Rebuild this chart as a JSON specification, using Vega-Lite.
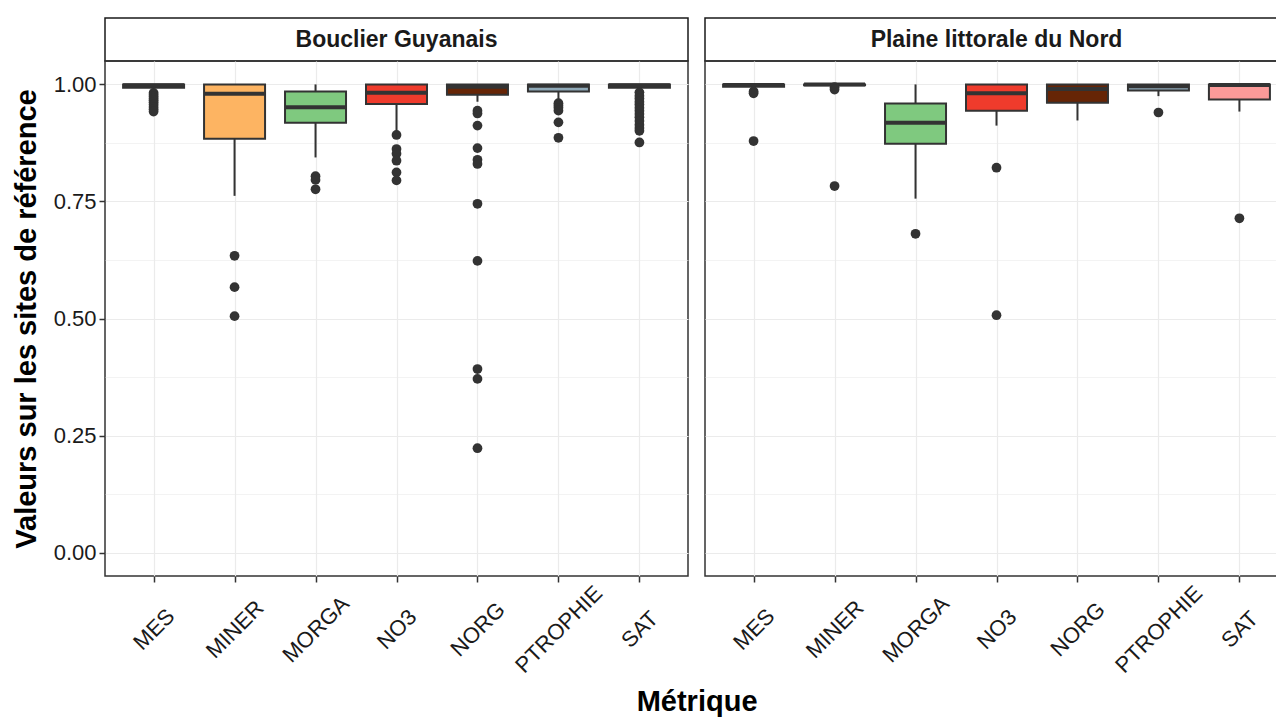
{
  "$schema": "https://vega.github.io/schema/vega-lite/v6.json",
  "background": "white",
  "padding": {"left": 11, "top": 17, "right": 0, "bottom": 0},
  "title": {"text": "Métrique", "orient": "bottom", "anchor": "middle", "dx": 47, "fontSize": 29, "fontWeight": "bold", "font": "Liberation Sans", "color": "black", "offset": 11},
  "datasets": {
    "boxes": [
      {"region": "Bouclier Guyanais", "metric": "MES", "lower": 0.986, "q1": 0.993, "median": 0.998, "q3": 1.0, "upper": 1.0},
      {"region": "Bouclier Guyanais", "metric": "MINER", "lower": 0.762, "q1": 0.884, "median": 0.980, "q3": 1.0, "upper": 1.0},
      {"region": "Bouclier Guyanais", "metric": "MORGA", "lower": 0.844, "q1": 0.918, "median": 0.951, "q3": 0.985, "upper": 1.0},
      {"region": "Bouclier Guyanais", "metric": "NO3", "lower": 0.900, "q1": 0.958, "median": 0.982, "q3": 1.0, "upper": 1.0},
      {"region": "Bouclier Guyanais", "metric": "NORG", "lower": 0.963, "q1": 0.978, "median": 0.995, "q3": 1.0, "upper": 1.0},
      {"region": "Bouclier Guyanais", "metric": "PTROPHIE", "lower": 0.968, "q1": 0.985, "median": 0.997, "q3": 1.0, "upper": 1.0},
      {"region": "Bouclier Guyanais", "metric": "SAT", "lower": 0.988, "q1": 0.993, "median": 0.998, "q3": 1.0, "upper": 1.0},
      {"region": "Plaine littorale du Nord", "metric": "MES", "lower": 0.993, "q1": 0.995, "median": 0.999, "q3": 1.0, "upper": 1.0},
      {"region": "Plaine littorale du Nord", "metric": "MINER", "lower": 0.997, "q1": 0.998, "median": 1.0, "q3": 1.0, "upper": 1.0},
      {"region": "Plaine littorale du Nord", "metric": "MORGA", "lower": 0.756, "q1": 0.873, "median": 0.918, "q3": 0.959, "upper": 1.0},
      {"region": "Plaine littorale du Nord", "metric": "NO3", "lower": 0.912, "q1": 0.944, "median": 0.981, "q3": 1.0, "upper": 1.0},
      {"region": "Plaine littorale du Nord", "metric": "NORG", "lower": 0.923, "q1": 0.961, "median": 0.990, "q3": 1.0, "upper": 1.0},
      {"region": "Plaine littorale du Nord", "metric": "PTROPHIE", "lower": 0.975, "q1": 0.987, "median": 0.996, "q3": 1.0, "upper": 1.0},
      {"region": "Plaine littorale du Nord", "metric": "SAT", "lower": 0.942, "q1": 0.968, "median": 0.999, "q3": 1.0, "upper": 1.0}
    ],
    "outliers": [
      {"region": "Bouclier Guyanais", "metric": "MES", "value": 0.982},
      {"region": "Bouclier Guyanais", "metric": "MES", "value": 0.978},
      {"region": "Bouclier Guyanais", "metric": "MES", "value": 0.974},
      {"region": "Bouclier Guyanais", "metric": "MES", "value": 0.970},
      {"region": "Bouclier Guyanais", "metric": "MES", "value": 0.966},
      {"region": "Bouclier Guyanais", "metric": "MES", "value": 0.962},
      {"region": "Bouclier Guyanais", "metric": "MES", "value": 0.957},
      {"region": "Bouclier Guyanais", "metric": "MES", "value": 0.952},
      {"region": "Bouclier Guyanais", "metric": "MES", "value": 0.947},
      {"region": "Bouclier Guyanais", "metric": "MES", "value": 0.942},
      {"region": "Bouclier Guyanais", "metric": "MINER", "value": 0.634},
      {"region": "Bouclier Guyanais", "metric": "MINER", "value": 0.567},
      {"region": "Bouclier Guyanais", "metric": "MINER", "value": 0.505},
      {"region": "Bouclier Guyanais", "metric": "MORGA", "value": 0.804},
      {"region": "Bouclier Guyanais", "metric": "MORGA", "value": 0.796},
      {"region": "Bouclier Guyanais", "metric": "MORGA", "value": 0.776},
      {"region": "Bouclier Guyanais", "metric": "NO3", "value": 0.892},
      {"region": "Bouclier Guyanais", "metric": "NO3", "value": 0.862},
      {"region": "Bouclier Guyanais", "metric": "NO3", "value": 0.852},
      {"region": "Bouclier Guyanais", "metric": "NO3", "value": 0.837},
      {"region": "Bouclier Guyanais", "metric": "NO3", "value": 0.812},
      {"region": "Bouclier Guyanais", "metric": "NO3", "value": 0.795},
      {"region": "Bouclier Guyanais", "metric": "NORG", "value": 0.944},
      {"region": "Bouclier Guyanais", "metric": "NORG", "value": 0.938},
      {"region": "Bouclier Guyanais", "metric": "NORG", "value": 0.912},
      {"region": "Bouclier Guyanais", "metric": "NORG", "value": 0.864},
      {"region": "Bouclier Guyanais", "metric": "NORG", "value": 0.839},
      {"region": "Bouclier Guyanais", "metric": "NORG", "value": 0.830},
      {"region": "Bouclier Guyanais", "metric": "NORG", "value": 0.745},
      {"region": "Bouclier Guyanais", "metric": "NORG", "value": 0.623},
      {"region": "Bouclier Guyanais", "metric": "NORG", "value": 0.392},
      {"region": "Bouclier Guyanais", "metric": "NORG", "value": 0.371},
      {"region": "Bouclier Guyanais", "metric": "NORG", "value": 0.223},
      {"region": "Bouclier Guyanais", "metric": "PTROPHIE", "value": 0.960},
      {"region": "Bouclier Guyanais", "metric": "PTROPHIE", "value": 0.955},
      {"region": "Bouclier Guyanais", "metric": "PTROPHIE", "value": 0.950},
      {"region": "Bouclier Guyanais", "metric": "PTROPHIE", "value": 0.944},
      {"region": "Bouclier Guyanais", "metric": "PTROPHIE", "value": 0.919},
      {"region": "Bouclier Guyanais", "metric": "PTROPHIE", "value": 0.886},
      {"region": "Bouclier Guyanais", "metric": "SAT", "value": 0.983},
      {"region": "Bouclier Guyanais", "metric": "SAT", "value": 0.976},
      {"region": "Bouclier Guyanais", "metric": "SAT", "value": 0.970},
      {"region": "Bouclier Guyanais", "metric": "SAT", "value": 0.963},
      {"region": "Bouclier Guyanais", "metric": "SAT", "value": 0.957},
      {"region": "Bouclier Guyanais", "metric": "SAT", "value": 0.950},
      {"region": "Bouclier Guyanais", "metric": "SAT", "value": 0.944},
      {"region": "Bouclier Guyanais", "metric": "SAT", "value": 0.937},
      {"region": "Bouclier Guyanais", "metric": "SAT", "value": 0.930},
      {"region": "Bouclier Guyanais", "metric": "SAT", "value": 0.922},
      {"region": "Bouclier Guyanais", "metric": "SAT", "value": 0.914},
      {"region": "Bouclier Guyanais", "metric": "SAT", "value": 0.907},
      {"region": "Bouclier Guyanais", "metric": "SAT", "value": 0.901},
      {"region": "Bouclier Guyanais", "metric": "SAT", "value": 0.876},
      {"region": "Plaine littorale du Nord", "metric": "MES", "value": 0.985},
      {"region": "Plaine littorale du Nord", "metric": "MES", "value": 0.981},
      {"region": "Plaine littorale du Nord", "metric": "MES", "value": 0.879},
      {"region": "Plaine littorale du Nord", "metric": "MINER", "value": 0.994},
      {"region": "Plaine littorale du Nord", "metric": "MINER", "value": 0.989},
      {"region": "Plaine littorale du Nord", "metric": "MINER", "value": 0.783},
      {"region": "Plaine littorale du Nord", "metric": "MORGA", "value": 0.681},
      {"region": "Plaine littorale du Nord", "metric": "NO3", "value": 0.822},
      {"region": "Plaine littorale du Nord", "metric": "NO3", "value": 0.507},
      {"region": "Plaine littorale du Nord", "metric": "PTROPHIE", "value": 0.940},
      {"region": "Plaine littorale du Nord", "metric": "SAT", "value": 0.714}
    ]
  },
  "hconcat": [
    {
      "spacing": 0,
      "bounds": "flush",
      "vconcat": [
        {
          "width": 583, "height": 43,
          "data": {"values": [{"label": "Bouclier Guyanais"}]},
          "view": {"stroke": "#1a1a1a", "strokeWidth": 1.5, "fill": "white"},
          "mark": {"type": "text", "fontSize": 23, "fontWeight": "bold", "font": "Liberation Sans", "color": "#1a1a1a"},
          "encoding": {"text": {"field": "label"}}
        },
        {
          "width": 583, "height": 515,
          "view": {"stroke": "#333333", "strokeWidth": 1.5},
          "encoding": {
            "x": {"field": "metric", "type": "nominal", "scale": {"type": "point", "padding": 0.6, "domain": ["MES", "MINER", "MORGA", "NO3", "NORG", "PTROPHIE", "SAT"]},
              "axis": {"title": null, "labelAngle": -45, "labelAlign": "center", "labelBaseline": "middle", "labelPadding": 47, "labelFontSize": 22, "labelFont": "Liberation Sans", "labelColor": "#1a1a1a", "tickColor": "#333333", "tickSize": 6, "tickWidth": 1.5, "domain": false, "grid": true, "gridColor": "#ebebeb", "gridWidth": 1.2}}
          },
          "layer": [
            {
              "data": {"name": "boxes"},
              "transform": [{"filter": "datum.region === 'Bouclier Guyanais'"}],
              "mark": {"type": "rule", "color": "#333333", "strokeWidth": 2},
              "encoding": {
                "y": {"field": "lower", "type": "quantitative", "scale": {"domain": [-0.05, 1.05], "nice": false, "zero": false},
                  "axis": {"title": "Valeurs sur les sites de référence", "titleFontSize": 29, "titleFontWeight": "bold", "titleFont": "Liberation Sans", "titleColor": "black", "titlePadding": 12,
                    "values": [0, 0.125, 0.25, 0.375, 0.5, 0.625, 0.75, 0.875, 1.0],
                    "labelExpr": "datum.value * 4 % 1 === 0 ? format(datum.value, '.2f') : ''",
                    "labelOverlap": false, "labelFontSize": 22, "labelFont": "Liberation Sans", "labelColor": "#1a1a1a", "labelPadding": 3,
                    "tickColor": "#333333", "tickSize": 6, "tickWidth": 1.5,
                    "tickOpacity": {"condition": {"test": "datum.value * 4 % 1 === 0", "value": 1}, "value": 0},
                    "domain": false, "grid": true, "gridColor": "#ebebeb",
                    "gridWidth": {"condition": {"test": "datum.value * 4 % 1 === 0", "value": 1.2}, "value": 0.6}}},
                "y2": {"field": "upper"}
              }
            },
            {
              "data": {"name": "boxes"},
              "transform": [{"filter": "datum.region === 'Bouclier Guyanais'"}],
              "mark": {"type": "bar", "size": 61, "stroke": "#333333", "strokeWidth": 2},
              "encoding": {
                "y": {"field": "q1", "type": "quantitative"},
                "y2": {"field": "q3"},
                "fill": {"field": "metric", "type": "nominal", "legend": null,
                  "scale": {"domain": ["MES", "MINER", "MORGA", "NO3", "NORG", "PTROPHIE", "SAT"], "range": ["#8DD3C7", "#FDB462", "#7FC97F", "#EF3B2C", "#662506", "#8FA9B8", "#FB9A99"]}}
              }
            },
            {
              "data": {"name": "boxes"},
              "transform": [{"filter": "datum.region === 'Bouclier Guyanais'"}],
              "mark": {"type": "tick", "size": 61, "thickness": 4, "color": "#333333", "opacity": 1},
              "encoding": {"y": {"field": "median", "type": "quantitative"}}
            },
            {
              "data": {"name": "outliers"},
              "transform": [{"filter": "datum.region === 'Bouclier Guyanais'"}],
              "mark": {"type": "circle", "size": 95, "color": "#333333", "opacity": 1},
              "encoding": {"y": {"field": "value", "type": "quantitative"}}
            }
          ]
        }
      ]
    },
    {
      "spacing": 0,
      "bounds": "flush",
      "vconcat": [
        {
          "width": 583, "height": 43,
          "data": {"values": [{"label": "Plaine littorale du Nord"}]},
          "view": {"stroke": "#1a1a1a", "strokeWidth": 1.5, "fill": "white"},
          "mark": {"type": "text", "fontSize": 23, "fontWeight": "bold", "font": "Liberation Sans", "color": "#1a1a1a"},
          "encoding": {"text": {"field": "label"}}
        },
        {
          "width": 583, "height": 515,
          "view": {"stroke": "#333333", "strokeWidth": 1.5},
          "encoding": {
            "x": {"field": "metric", "type": "nominal", "scale": {"type": "point", "padding": 0.6, "domain": ["MES", "MINER", "MORGA", "NO3", "NORG", "PTROPHIE", "SAT"]},
              "axis": {"title": null, "labelAngle": -45, "labelAlign": "center", "labelBaseline": "middle", "labelPadding": 47, "labelFontSize": 22, "labelFont": "Liberation Sans", "labelColor": "#1a1a1a", "tickColor": "#333333", "tickSize": 6, "tickWidth": 1.5, "domain": false, "grid": true, "gridColor": "#ebebeb", "gridWidth": 1.2}}
          },
          "layer": [
            {
              "data": {"name": "boxes"},
              "transform": [{"filter": "datum.region === 'Plaine littorale du Nord'"}],
              "mark": {"type": "rule", "color": "#333333", "strokeWidth": 2},
              "encoding": {
                "y": {"field": "lower", "type": "quantitative", "scale": {"domain": [-0.05, 1.05], "nice": false, "zero": false},
                  "axis": {"title": null, "labels": false, "ticks": false, "domain": false,
                    "values": [0, 0.125, 0.25, 0.375, 0.5, 0.625, 0.75, 0.875, 1.0],
                    "grid": true, "gridColor": "#ebebeb",
                    "gridWidth": {"condition": {"test": "datum.value * 4 % 1 === 0", "value": 1.2}, "value": 0.6}}},
                "y2": {"field": "upper"}
              }
            },
            {
              "data": {"name": "boxes"},
              "transform": [{"filter": "datum.region === 'Plaine littorale du Nord'"}],
              "mark": {"type": "bar", "size": 61, "stroke": "#333333", "strokeWidth": 2},
              "encoding": {
                "y": {"field": "q1", "type": "quantitative"},
                "y2": {"field": "q3"},
                "fill": {"field": "metric", "type": "nominal", "legend": null,
                  "scale": {"domain": ["MES", "MINER", "MORGA", "NO3", "NORG", "PTROPHIE", "SAT"], "range": ["#8DD3C7", "#FDB462", "#7FC97F", "#EF3B2C", "#662506", "#8FA9B8", "#FB9A99"]}}
              }
            },
            {
              "data": {"name": "boxes"},
              "transform": [{"filter": "datum.region === 'Plaine littorale du Nord'"}],
              "mark": {"type": "tick", "size": 61, "thickness": 4, "color": "#333333", "opacity": 1},
              "encoding": {"y": {"field": "median", "type": "quantitative"}}
            },
            {
              "data": {"name": "outliers"},
              "transform": [{"filter": "datum.region === 'Plaine littorale du Nord'"}],
              "mark": {"type": "circle", "size": 95, "color": "#333333", "opacity": 1},
              "encoding": {"y": {"field": "value", "type": "quantitative"}}
            }
          ]
        }
      ]
    }
  ],
  "spacing": 15,
  "config": {"font": "Liberation Sans"}
}
